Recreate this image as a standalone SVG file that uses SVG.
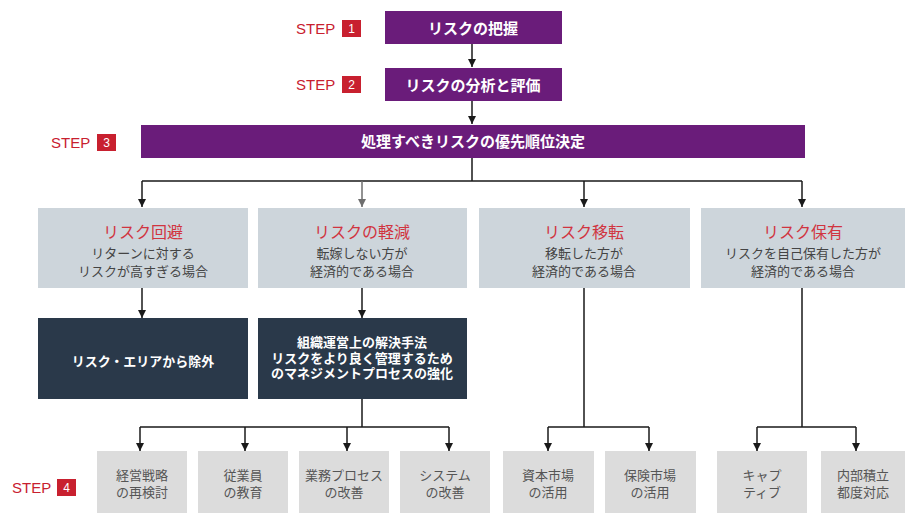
<svg xmlns="http://www.w3.org/2000/svg" width="905" height="513" viewBox="0 0 905 513">
<defs>
<marker id="ah" viewBox="0 0 10 10" refX="10" refY="5" markerWidth="8" markerHeight="8" markerUnits="userSpaceOnUse" orient="auto"><path d="M0,0 L10,5 L0,10 Z" fill="#1a1a1a"/></marker>
<marker id="ahg" viewBox="0 0 10 10" refX="10" refY="5" markerWidth="8" markerHeight="8" markerUnits="userSpaceOnUse" orient="auto"><path d="M0,0 L10,5 L0,10 Z" fill="#6e6e6e"/></marker>
</defs>
<style>
text{font-family:"Liberation Sans","Noto Sans CJK JP",sans-serif;text-anchor:middle;dominant-baseline:central}
.purple{fill:#6a1c7a}
.pt{fill:#fff;font-size:15px;font-weight:bold}
.mid{fill:#cdd5db}
.mt{fill:#d1343f;font-size:16px}
.ms{fill:#444;font-size:13px}
.dark{fill:#2a394a}
.dt{fill:#fff;font-size:13px;font-weight:bold}
.bot{fill:#dcdcdc}
.bt{fill:#555;font-size:13px}
.step{fill:#c8202f;font-size:15px;text-anchor:start}
.num{fill:#c8202f}
.nt{fill:#fff;font-size:12px}
.c{stroke:#1a1a1a;stroke-width:1.5;fill:none}
</style>
<g id="connectors">
<path class="c" d="M472,44 V67" marker-end="url(#ah)"/>
<path class="c" d="M472,101 V124" marker-end="url(#ah)"/>
<path class="c" d="M472,158 V181 M142,181 H802"/>
<path class="c" d="M142,181 V207" marker-end="url(#ah)"/>
<path d="M362,181 V207" stroke="#6e6e6e" stroke-width="1.5" marker-end="url(#ahg)"/>
<path class="c" d="M584,181 V207" marker-end="url(#ah)"/>
<path class="c" d="M802,181 V207" marker-end="url(#ah)"/>
<path class="c" d="M142,288 V318" marker-end="url(#ah)"/>
<path class="c" d="M362,288 V318" marker-end="url(#ah)"/>
<path class="c" d="M362,399 V427 M140,427 H449"/>
<path class="c" d="M140,427 V451" marker-end="url(#ah)"/>
<path class="c" d="M245,427 V451" marker-end="url(#ah)"/>
<path class="c" d="M347,427 V451" marker-end="url(#ah)"/>
<path class="c" d="M449,427 V451" marker-end="url(#ah)"/>
<path class="c" d="M584,288 V427 M548,427 H649"/>
<path class="c" d="M548,427 V451" marker-end="url(#ah)"/>
<path class="c" d="M649,427 V451" marker-end="url(#ah)"/>
<path class="c" d="M802,288 V427 M757,427 H856"/>
<path class="c" d="M757,427 V451" marker-end="url(#ah)"/>
<path class="c" d="M856,427 V451" marker-end="url(#ah)"/>
</g>
<g id="step1"><text class="step" x="296" y="28">STEP</text><rect class="num" x="342" y="20" width="19" height="17"/><text class="nt" x="351.5" y="28.5">1</text></g>
<g id="step2"><text class="step" x="296" y="84">STEP</text><rect class="num" x="342" y="76" width="19" height="17"/><text class="nt" x="351.5" y="84.5">2</text></g>
<g id="step3"><text class="step" x="51" y="142">STEP</text><rect class="num" x="97" y="134" width="19" height="17"/><text class="nt" x="106.5" y="142.5">3</text></g>
<g id="step4"><text class="step" x="12" y="487">STEP</text><rect class="num" x="57" y="479" width="19" height="17"/><text class="nt" x="66.5" y="487.5">4</text></g>
<g id="n1"><rect class="purple" x="385" y="11" width="177" height="33"/><text class="pt" x="473" y="28">リスクの把握</text></g>
<g id="n2"><rect class="purple" x="385" y="68" width="177" height="33"/><text class="pt" x="473" y="85">リスクの分析と評価</text></g>
<g id="n3"><rect class="purple" x="141" y="125" width="664" height="33"/><text class="pt" x="473" y="141">処理すべきリスクの優先順位決定</text></g>
<g id="avoid"><rect class="mid" x="38" y="208" width="210" height="80"/><text class="mt" x="143" y="232">リスク回避</text><text class="ms" x="143" y="253">リターンに対する</text><text class="ms" x="143" y="271">リスクが高すぎる場合</text></g>
<g id="reduce"><rect class="mid" x="258" y="208" width="209" height="80"/><text class="mt" x="362" y="232">リスクの軽減</text><text class="ms" x="362" y="253">転嫁しない方が</text><text class="ms" x="362" y="271">経済的である場合</text></g>
<g id="transfer"><rect class="mid" x="479" y="208" width="211" height="80"/><text class="mt" x="584" y="232">リスク移転</text><text class="ms" x="584" y="253">移転した方が</text><text class="ms" x="584" y="271">経済的である場合</text></g>
<g id="retain"><rect class="mid" x="701" y="208" width="204" height="80"/><text class="mt" x="803" y="232">リスク保有</text><text class="ms" x="803" y="253">リスクを自己保有した方が</text><text class="ms" x="803" y="271">経済的である場合</text></g>
<g id="exclude"><rect class="dark" x="38" y="318" width="210" height="81"/><text class="dt" x="143" y="361">リスク・エリアから除外</text></g>
<g id="org"><rect class="dark" x="258" y="318" width="209" height="81"/><text class="dt" x="362" y="342.5">組織運営上の解決手法</text><text class="dt" x="362" y="358">リスクをより良く管理するため</text><text class="dt" x="362" y="373.5">のマネジメントプロセスの強化</text></g>
<g id="b1"><rect class="bot" x="97" y="451" width="90" height="62"/><text class="bt" x="142" y="475">経営戦略</text><text class="bt" x="142" y="492">の再検討</text></g>
<g id="b2"><rect class="bot" x="198" y="451" width="90" height="62"/><text class="bt" x="243" y="475">従業員</text><text class="bt" x="243" y="492">の教育</text></g>
<g id="b3"><rect class="bot" x="299" y="451" width="90" height="62"/><text class="bt" x="344" y="475">業務プロセス</text><text class="bt" x="344" y="492">の改善</text></g>
<g id="b4"><rect class="bot" x="400" y="451" width="90" height="62"/><text class="bt" x="445" y="475">システム</text><text class="bt" x="445" y="492">の改善</text></g>
<g id="b5"><rect class="bot" x="503" y="451" width="91" height="62"/><text class="bt" x="548" y="475">資本市場</text><text class="bt" x="548" y="492">の活用</text></g>
<g id="b6"><rect class="bot" x="605" y="451" width="91" height="62"/><text class="bt" x="650" y="475">保険市場</text><text class="bt" x="650" y="492">の活用</text></g>
<g id="b7"><rect class="bot" x="717" y="451" width="90" height="62"/><text class="bt" x="762" y="475">キャプ</text><text class="bt" x="762" y="492">ティブ</text></g>
<g id="b8"><rect class="bot" x="821" y="451" width="84" height="62"/><text class="bt" x="863" y="475">内部積立</text><text class="bt" x="863" y="492">都度対応</text></g>
</svg>
